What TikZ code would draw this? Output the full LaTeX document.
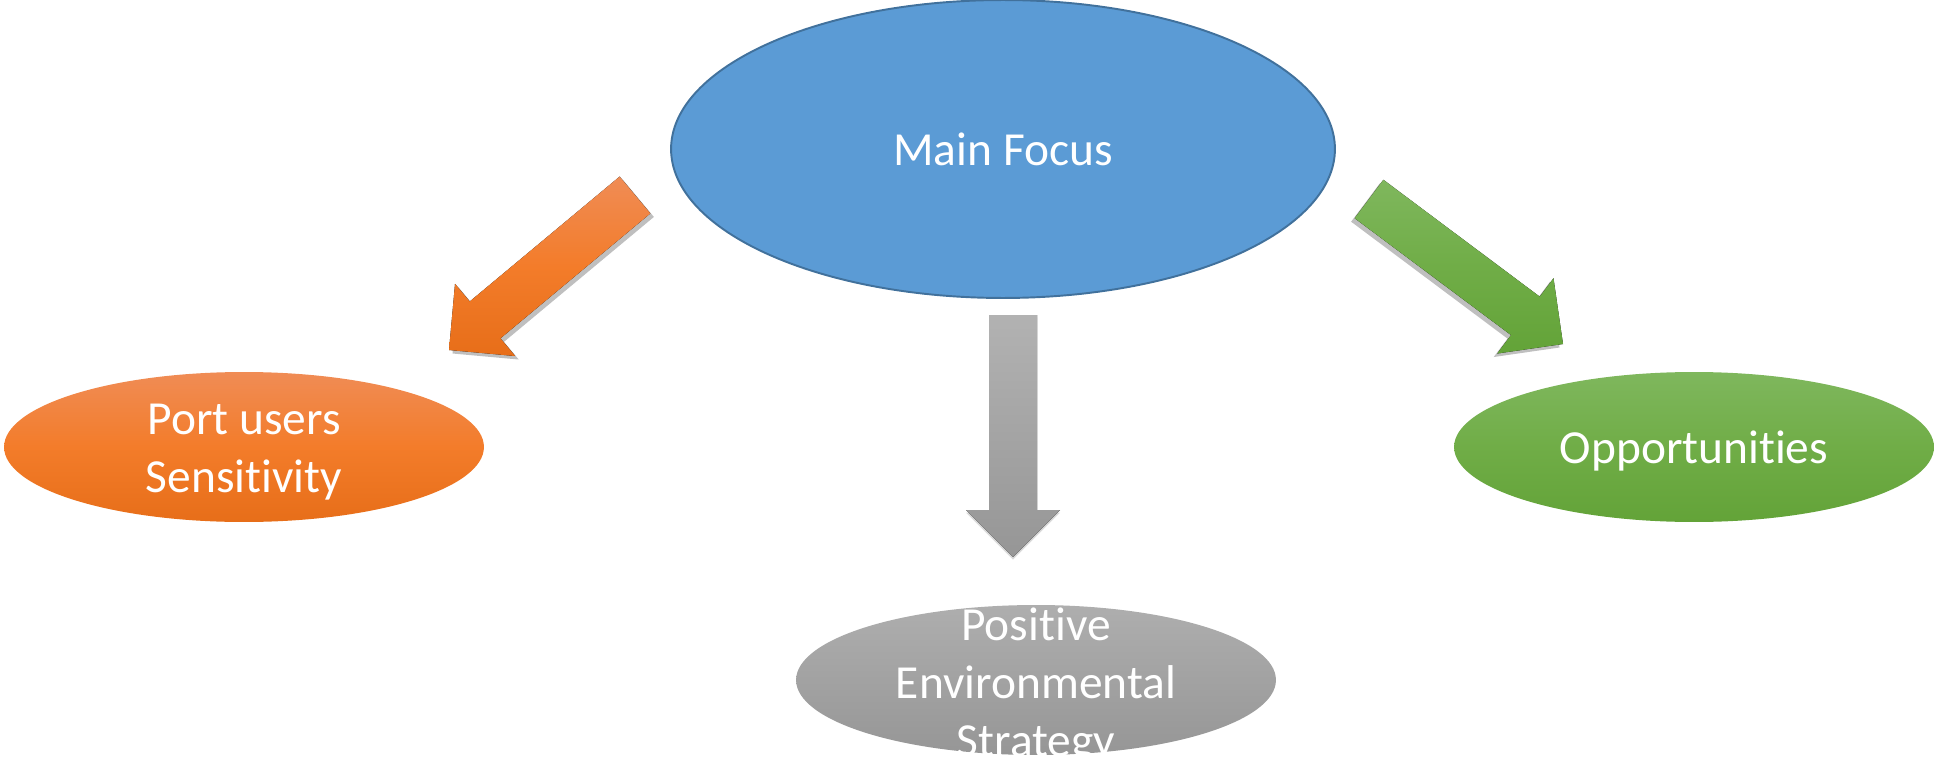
\documentclass[tikz,border=0pt]{standalone}
\usepackage{fontspec}
\setmainfont[Ligatures = {NoCommon, NoRequired, NoContextual}, Contextuals = NoAlternate]{Carlito}
\usetikzlibrary{shapes.geometric,calc,shadows}

\definecolor{focusblue}{RGB}{91,155,213}
\definecolor{focusedge}{RGB}{65,113,156}
\definecolor{orangetop}{RGB}{240,140,85}
\definecolor{orangemid}{RGB}{243,124,42}
\definecolor{orangebot}{RGB}{231,110,25}
\definecolor{greentop}{RGB}{127,183,93}
\definecolor{greenmid}{RGB}{112,173,71}
\definecolor{greenbot}{RGB}{99,163,56}
\definecolor{graytop}{RGB}{174,174,174}
\definecolor{graybot}{RGB}{150,150,150}

\newcommand{\blockarrow}[3]{%
  \path ($(#2)!0.94cm!(#1)$) coordinate (h);
  \fill[#3] ($(#1)!0.48cm!90:(#2)$) -- ($(h)!0.48cm!-90:(#1)$) --
	  ($(h)!0.94cm!-90:(#1)$) -- (#2) -- ($(h)!0.94cm!90:(#1)$) --
	  ($(h)!0.48cm!90:(#1)$) -- ($(#1)!0.48cm!-90:(#2)$) -- cycle;}

\begin{document}
\begin{tikzpicture}[
    x = 0.02cm, y = -0.02cm,
    every node/.style = {font = \fontsize{27}{33}\selectfont, text = white, align = center},
    oval/.style = {ellipse, inner sep = 0pt, minimum width = 9.6cm, minimum height = 3cm},
    blueoval/.style = {oval, fill = focusblue, draw = focusedge, line width = 1.1pt,
                       minimum width = 13.28cm, minimum height = 5.96cm},
    orangeoval/.style = {oval, top color = orangetop, bottom color = orangebot, middle color = orangemid},
    greenoval/.style = {oval, top color = greentop, bottom color = greenbot, middle color = greenmid},
    grayoval/.style = {oval, top color = graytop, bottom color = graybot},
    orangearrow/.style = {top color = orangetop, bottom color = orangebot, middle color = orangemid,
                          drop shadow = {shadow xshift = 2pt, shadow yshift = -2pt, opacity = .5}},
    greenarrow/.style = {top color = greentop, bottom color = greenbot, middle color = greenmid,
                         drop shadow = {shadow xshift = -2pt, shadow yshift = -2pt, opacity = .5}},
    grayarrow/.style = {top color = graytop!95!white, bottom color = graybot,
                        drop shadow = {shadow xshift = 0pt, shadow yshift = -1.5pt, opacity = .3}}]

\useasboundingbox (0,0) rectangle (1934,757);
\clip (0,0) rectangle (1934,757);

\node[blueoval] (focus) at (1003,149) {Main Focus};
\node[orangeoval] (users) at (244,447) {};
\node (userstext) at (244,452) {Port users\\Sensitivity};
\node[greenoval, text depth = 0pt] (chances) at (1694,447) {Opportunities};
\node[grayoval] (strategy) at (1036,680) {};
\node (strategytext) at (1036,686) {Positive\\Environmental\\Strategy};

\path (635,195) coordinate (usersfrom)
	  (449,350) coordinate (usersto)
	  (1369,199) coordinate (chancesfrom)
	  (1563,344) coordinate (chancesto)
	  (1013,315) coordinate (strategyfrom)
	  (1013,557) coordinate (strategyto);

\blockarrow{usersfrom}{usersto}{orangearrow}
\blockarrow{chancesfrom}{chancesto}{greenarrow}
\blockarrow{strategyfrom}{strategyto}{grayarrow}
\end{tikzpicture}
\end{document}
